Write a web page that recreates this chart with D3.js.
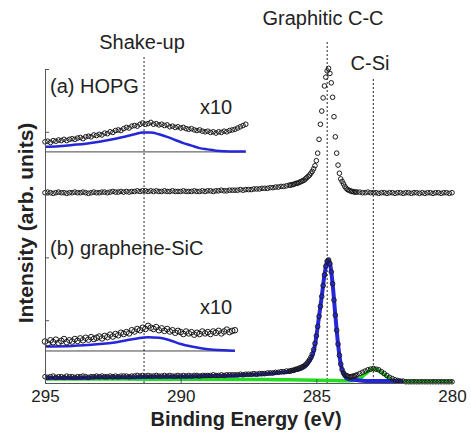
<!DOCTYPE html>
<html>
<head>
<meta charset="utf-8">
<script src="https://cdn.jsdelivr.net/npm/d3@7"></script>
<style>
  body { margin: 0; background: #fff; }
  svg text { font-family: "Liberation Sans", Arial, Helvetica, sans-serif; fill: #222; }
</style>
</head>
<body>
<svg id="chart" width="471" height="435"></svg>
<script>
// binding energy grid of the measured spectra (eV)
const mainEnergy = [
  295.0,294.9,294.8,294.7,294.6,294.5,294.4,294.3,294.2,294.1,
  294.0,293.9,293.8,293.7,293.6,293.5,293.4,293.3,293.2,293.1,
  293.0,292.9,292.8,292.7,292.6,292.5,292.4,292.3,292.2,292.1,
  292.0,291.9,291.8,291.7,291.6,291.5,291.4,291.3,291.2,291.1,
  291.0,290.9,290.8,290.7,290.6,290.5,290.4,290.3,290.2,290.1,
  290.0,289.9,289.8,289.7,289.6,289.5,289.4,289.3,289.2,289.1,
  289.0,288.9,288.8,288.7,288.6,288.5,288.4,288.3,288.2,288.1,
  288.0,287.9,287.8,287.7,287.6,287.5,287.4,287.3,287.2,287.1,
  287.0,286.9,286.8,286.7,286.6,286.5,286.4,286.3,286.2,286.1,
  286.0,285.95,285.9,285.85,285.8,285.75,285.7,285.65,285.6,285.55,
  285.5,285.45,285.4,285.35,285.3,285.25,285.2,285.15,285.1,285.05,
  285.0,284.95,284.9,284.85,284.8,284.75,284.7,284.65,284.6,284.55,
  284.5,284.45,284.4,284.35,284.3,284.25,284.2,284.15,284.1,284.05,
  284.0,283.95,283.9,283.85,283.8,283.75,283.7,283.65,283.6,283.55,
  283.5,283.4,283.3,283.2,283.1,283.0,282.9,282.8,282.7,282.6,
  282.5,282.4,282.3,282.2,282.1,282.0,281.9,281.8,281.7,281.6,
  281.5,281.4,281.3,281.2,281.1,281.0,280.9,280.8,280.7,280.6,
  280.5,280.4,280.3,280.2,280.1,280.0
];

// (a) HOPG, C 1s (offset intensity, arb. units)
const hopgMain = [
  3.03,3.04,3.03,3.02,3.03,3.04,3.03,3.03,3.02,3.03,
  3.03,3.04,3.03,3.03,3.04,3.03,3.02,3.03,3.04,3.03,
  3.03,3.04,3.04,3.03,3.04,3.05,3.04,3.04,3.05,3.04,
  3.05,3.04,3.05,3.05,3.06,3.05,3.06,3.06,3.05,3.06,
  3.05,3.06,3.05,3.05,3.06,3.05,3.05,3.06,3.05,3.05,
  3.05,3.06,3.05,3.05,3.05,3.06,3.05,3.05,3.06,3.05,
  3.06,3.06,3.05,3.06,3.06,3.07,3.06,3.06,3.07,3.07,
  3.07,3.07,3.08,3.07,3.08,3.08,3.08,3.09,3.09,3.09,
  3.10,3.10,3.10,3.11,3.11,3.12,3.12,3.13,3.13,3.14,
  3.15,3.15,3.16,3.16,3.17,3.18,3.18,3.19,3.20,3.21,
  3.22,3.23,3.25,3.27,3.29,3.31,3.34,3.37,3.41,3.46,
  3.54,3.66,3.88,4.12,4.33,4.54,4.73,4.87,4.97,5.01,
  4.93,4.78,4.55,4.24,3.92,3.66,3.47,3.34,3.25,3.21,
  3.17,3.13,3.10,3.08,3.07,3.06,3.05,3.05,3.04,3.04,
  3.04,3.04,3.03,3.03,3.04,3.03,3.03,3.03,3.02,3.03,
  3.03,3.02,3.03,3.03,3.02,3.03,3.03,3.02,3.03,3.03,
  3.02,3.03,3.03,3.02,3.03,3.02,3.03,3.03,3.02,3.03,
  3.03,3.02,3.03,3.03,3.02,3.03
];

// (a) shake-up region x10, first points of mainEnergy
const hopgX10 = [
  3.84,3.85,3.83,3.86,3.85,3.87,3.86,3.88,3.86,3.88,
  3.89,3.88,3.90,3.91,3.89,3.92,3.93,3.92,3.95,3.94,
  3.96,3.95,3.98,3.97,4.00,3.99,4.02,4.03,4.02,4.05,
  4.07,4.06,4.09,4.10,4.09,4.12,4.14,4.12,4.13,4.15,
  4.12,4.13,4.11,4.12,4.10,4.11,4.08,4.09,4.07,4.08,
  4.06,4.07,4.05,4.04,4.05,4.03,4.02,4.03,4.01,4.00,
  4.01,3.99,4.00,3.98,4.00,3.99,4.01,4.00,4.02,4.03,
  4.04,4.06,4.08,4.10,4.12
];
const hopgFitEnergy = [295,294.5,294,293.5,293,292.5,292,291.7,291.4,291.1,290.8,290.5,290.2,289.9,289.6,289.3,289,288.7,288.4,288,287.6];
const hopgFit = [3.76,3.77,3.79,3.81,3.84,3.88,3.93,3.96,3.99,3.99,3.96,3.92,3.87,3.82,3.78,3.74,3.72,3.70,3.69,3.685,3.685];

// (b) graphene-SiC, C 1s
const gsicMain = [
  0.10,0.09,0.10,0.11,0.09,0.10,0.10,0.09,0.11,0.10,
  0.10,0.09,0.10,0.10,0.11,0.10,0.09,0.10,0.10,0.11,
  0.10,0.11,0.10,0.10,0.11,0.10,0.11,0.10,0.11,0.11,
  0.11,0.10,0.11,0.11,0.12,0.11,0.12,0.11,0.12,0.11,
  0.11,0.12,0.11,0.11,0.12,0.11,0.12,0.11,0.11,0.12,
  0.11,0.12,0.11,0.12,0.11,0.12,0.12,0.11,0.12,0.12,
  0.12,0.12,0.13,0.12,0.12,0.13,0.12,0.13,0.13,0.13,
  0.13,0.13,0.14,0.13,0.14,0.14,0.14,0.15,0.14,0.15,
  0.15,0.15,0.16,0.16,0.16,0.17,0.17,0.18,0.18,0.19,
  0.19,0.19,0.20,0.20,0.21,0.22,0.22,0.23,0.24,0.25,
  0.26,0.27,0.29,0.31,0.34,0.37,0.41,0.46,0.53,0.63,
  0.75,0.90,1.06,1.22,1.38,1.55,1.72,1.86,1.94,1.96,
  1.90,1.77,1.58,1.32,1.08,0.84,0.62,0.44,0.30,0.21,
  0.16,0.13,0.12,0.11,0.10,0.10,0.10,0.11,0.11,0.12,
  0.13,0.15,0.17,0.19,0.21,0.22,0.23,0.22,0.21,0.18,
  0.15,0.12,0.09,0.07,0.05,0.04,0.03,0.03,0.02,0.02,
  0.02,0.02,0.02,0.02,0.02,0.02,0.02,0.02,0.02,0.02,
  0.02,0.02,0.02,0.02,0.02,0.02
];
const ccFitEnergy = [295,294,293,292,291,290,289,288,287.5,287,286.5,286,285.8,285.6,285.4,285.3,285.2,285.1,285.0,284.9,284.8,284.7,284.6,284.55,284.5,284.4,284.3,284.2,284.1,284.0,283.9,283.8,283.6,283.4,283.0,282.5,282.0,281.8];
const ccFit = [0.08,0.08,0.09,0.09,0.10,0.10,0.11,0.12,0.13,0.14,0.16,0.18,0.20,0.22,0.27,0.32,0.39,0.50,0.74,1.06,1.38,1.72,1.94,1.96,1.91,1.58,1.08,0.62,0.30,0.15,0.08,0.06,0.05,0.04,0.03,0.03,0.03,0.03];
const siFitEnergy = [295,293,291,289,287,286,285,284.5,284,283.6,283.4,283.2,283.0,282.9,282.8,282.6,282.4,282.2,282.0,281.8,281,280];
const siFit = [0.065,0.065,0.06,0.06,0.055,0.05,0.045,0.04,0.035,0.04,0.07,0.14,0.21,0.23,0.22,0.17,0.10,0.05,0.03,0.02,0.02,0.02];

const gsicX10 = [
  0.66,0.63,0.68,0.65,0.69,0.64,0.67,0.70,0.65,0.68,
  0.66,0.70,0.67,0.71,0.68,0.72,0.69,0.73,0.70,0.72,
  0.74,0.71,0.75,0.73,0.77,0.74,0.78,0.76,0.80,0.78,
  0.81,0.79,0.84,0.82,0.86,0.84,0.88,0.86,0.91,0.88,
  0.86,0.89,0.84,0.87,0.83,0.86,0.82,0.84,0.80,0.83,
  0.81,0.78,0.82,0.79,0.81,0.77,0.80,0.78,0.82,0.79,
  0.81,0.78,0.82,0.80,0.83,0.79,0.82,0.85,0.81,0.83,
  0.84
];
const gsicFitEnergy = [295,294,293,292.5,292,291.6,291.2,290.8,290.4,290,289.6,289.2,288.8,288.4,288];
const gsicFit = [0.58,0.59,0.62,0.64,0.68,0.71,0.73,0.72,0.68,0.62,0.58,0.55,0.53,0.52,0.515];

// zero levels and right ends of the x10 insets
const insetZero = [3.68, 0.51];
const insetEnd = [287.6, 288.0];

// peak markers
const markerNames = ['Shake-up', 'Graphitic C-C', 'C-Si'];
const markerEnergy = [291.35, 284.6, 282.9];
const markerTop = [5.19, 5.43, 4.84];

const xTicks = [295, 290, 285, 280];
const yTicks = [0, 1, 2, 3, 4, 5];

const colors = {
  axis: '#555',
  marker: '#222',
  fit: '#2626d9',
  bg: '#22dd22'
};

const svg = d3.select('#chart');
const x = d3.scaleLinear().domain([295, 280]).range([45, 452]);
const y = d3.scaleLinear().domain([0, 5]).range([383, 69]);

const pairs = (xs, ys) => ys.map((v, i) => [xs[i], v]);
const line = d3.line().x(d => x(d[0])).y(d => y(d[1])).curve(d3.curveMonotoneX);

// inset zero lines
insetZero.forEach((z, i) => {
  svg.append('line')
    .attr('x1', x(295)).attr('x2', x(insetEnd[i]))
    .attr('y1', y(z)).attr('y2', y(z))
    .attr('stroke', '#444').attr('stroke-width', 1);
});

// dashed peak markers
markerEnergy.forEach((e, i) => {
  svg.append('line')
    .attr('x1', x(e)).attr('x2', x(e))
    .attr('y1', y(markerTop[i])).attr('y2', y(0))
    .attr('stroke', colors.marker).attr('stroke-width', 1)
    .attr('stroke-dasharray', '2,2');
});

// fits
svg.append('path').datum(pairs(siFitEnergy, siFit))
  .attr('fill', 'none').attr('stroke', colors.bg).attr('stroke-width', 3.5).attr('d', line);
svg.append('path').datum(pairs(ccFitEnergy, ccFit))
  .attr('fill', 'none').attr('stroke', colors.fit).attr('stroke-width', 4).attr('d', line);
svg.append('path').datum(pairs(hopgFitEnergy, hopgFit))
  .attr('fill', 'none').attr('stroke', colors.fit).attr('stroke-width', 2.5).attr('d', line);
svg.append('path').datum(pairs(gsicFitEnergy, gsicFit))
  .attr('fill', 'none').attr('stroke', colors.fit).attr('stroke-width', 2.5).attr('d', line);

// measured points
function dots(data, r) {
  svg.append('g').selectAll('circle')
    .data(data)
    .enter().append('circle')
    .attr('cx', d => x(d[0]))
    .attr('cy', d => y(d[1]))
    .attr('r', r)
    .attr('fill', 'none')
    .attr('stroke', '#1a1a1a')
    .attr('stroke-width', 1);
}
dots(pairs(mainEnergy, hopgMain), 2.3);
dots(pairs(mainEnergy, hopgX10), 2.3);
dots(pairs(mainEnergy, gsicMain), 2.3);
dots(pairs(mainEnergy, gsicX10), 2.8);

// axes
const xAxis = svg.append('g')
  .attr('transform', `translate(0,${y(0)})`)
  .call(d3.axisBottom(x).tickValues(xTicks).tickSizeInner(-4).tickSizeOuter(0).tickPadding(7).tickFormat(d3.format('d')));
const yAxis = svg.append('g')
  .attr('transform', `translate(${x(295)},0)`)
  .call(d3.axisLeft(y).tickValues(yTicks).tickSizeInner(-4).tickSizeOuter(0).tickFormat(''));
[xAxis, yAxis].forEach(a => {
  a.select('.domain').attr('stroke', colors.axis);
  a.selectAll('.tick line').attr('stroke', colors.axis);
});
xAxis.selectAll('text').style('font-size', '17px').style('font-family', '"Liberation Sans", Arial, sans-serif').attr('fill', '#222');

svg.append('text')
  .attr('x', 246).attr('y', 426)
  .attr('text-anchor', 'middle')
  .style('font-size', '20px').style('font-weight', 'bold')
  .text('Binding Energy (eV)');

svg.append('text')
  .attr('transform', 'rotate(-90)')
  .attr('x', -223).attr('y', 33)
  .attr('text-anchor', 'middle')
  .style('font-size', '21px').style('font-weight', 'bold')
  .text('Intensity (arb. units)');

// annotations
const labelPos = [[142, 49], [323, 25], [370, 70]];
markerNames.forEach((t, i) => {
  svg.append('text')
    .attr('x', labelPos[i][0]).attr('y', labelPos[i][1])
    .attr('text-anchor', 'middle')
    .style('font-size', '20px')
    .text(t);
});

const notes = [['(a) HOPG', 50, 93], ['x10', 200, 114], ['(b) graphene-SiC', 50, 255], ['x10', 200, 314]];
notes.forEach(n => {
  svg.append('text')
    .attr('x', n[1]).attr('y', n[2])
    .style('font-size', '20px')
    .text(n[0]);
});
</script>
</body>
</html>
